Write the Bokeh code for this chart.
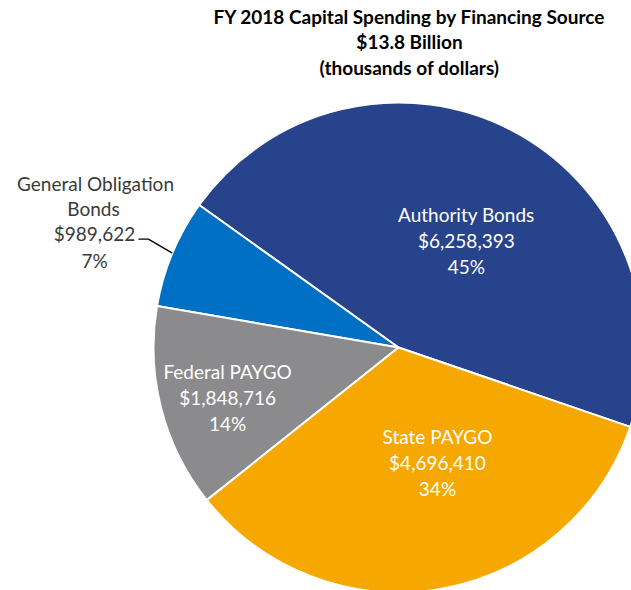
import math
from bokeh.plotting import figure
from bokeh.models import ColumnDataSource, Range1d
from bokeh.core.properties import value
from bokeh.embed import file_html
from bokeh.resources import INLINE

# ---- data ----
categories = ["Authority Bonds", "General Obligation Bonds", "Federal PAYGO", "State PAYGO"]
amounts = [6258393, 989622, 1848716, 4696410]
pct_labels = ["45%", "7%", "14%", "34%"]
colors = ["#27438C", "#0070C4", "#8B8A8D", "#F6A800"]
title_lines = ["FY 2018 Capital Spending by Financing Source", "$13.8 Billion", "(thousands of dollars)"]

# ---- layout ----
W, H = 631, 590
cx, cy = 398, 243          # pie centre (px in plot, y up)
R = 245
start_deg = -18.9
FONT = "Lato"
FS = "19px"

total = float(sum(amounts))
starts, ends, mids = [], [], []
a = math.radians(start_deg)
for v in amounts:
    span = v / total * 2 * math.pi
    starts.append(a)
    ends.append(a + span)
    mids.append(a + span / 2)
    a += span

p = figure(width=W, height=H, x_range=Range1d(0, W), y_range=Range1d(0, H),
           output_backend="svg", toolbar_location=None, min_border=0)
p.axis.visible = False
p.grid.visible = False
p.outline_line_color = None
p.background_fill_color = "white"

src = ColumnDataSource(dict(start=starts, end=ends, color=colors))
p.wedge(x=cx, y=cy, radius=R, start_angle="start", end_angle="end",
        fill_color="color", line_color="white", line_width=2, source=src)

def fmt(v):
    return "${:,}".format(v)

# label positions: (angle offset deg from slice middle, distance fraction of R)
label_pos = [(-5.1, 0.518), None, (1.95, 0.727), (8.9, 0.496)]
line_gap = 26
for i, cat in enumerate(categories):
    if label_pos[i] is None:
        continue
    off, frac = label_pos[i]
    ang = mids[i] + math.radians(off)
    lx = cx + frac * R * math.cos(ang)
    ly = cy + frac * R * math.sin(ang)
    lines = [cat, fmt(amounts[i]), pct_labels[i]]
    ys = [ly + line_gap, ly, ly - line_gap]
    p.text(x=[lx] * 3, y=ys, text=lines, text_font=value(FONT), text_font_size=FS,
           text_color="white", text_align="center", text_baseline="middle")

# General Obligation label outside with leader line
gi = 1
ex = cx + R * math.cos(mids[gi])
ey = cy + R * math.sin(mids[gi])
elbow_x, elbow_y = ex - 24, ey + 14
p.line(x=[ex, elbow_x, elbow_x - 10], y=[ey, elbow_y, elbow_y], line_color="black", line_width=1.3)
go_lines = ["General Obligation", "Bonds", fmt(amounts[gi]), pct_labels[gi]]
go_y = [elbow_y + 56, elbow_y + 31, elbow_y + 6, elbow_y - 21]
p.text(x=[95, 93, 94, 94], y=go_y, text=go_lines, text_font=value(FONT), text_font_size=FS,
       text_color="#3a3a3a", text_align="center", text_baseline="middle")

# title
p.text(x=[409] * 3, y=[574, 549, 523], text=title_lines, text_font=value(FONT),
       text_font_size=FS, text_font_style="bold", text_color="black",
       text_align="center", text_baseline="middle")

open("out.html", "w").write(file_html(p, INLINE))
